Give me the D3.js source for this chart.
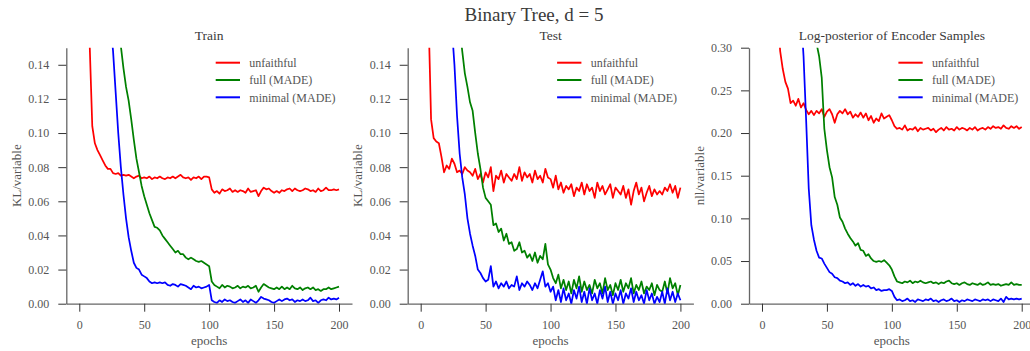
<!DOCTYPE html>
<html>
<head>
<meta charset="utf-8">
<script src="https://cdn.jsdelivr.net/npm/d3@7"></script>
<style>
  body { margin: 0; background: #fff; }
  text { font-family: "Liberation Serif", "DejaVu Serif", serif; }
</style>
</head>
<body>
<div id="chart"></div>
<script>
// epochs sampled every 2
const epochs = d3.range(0, 201, 2);

const seriesNames = ['unfaithful', 'full (MADE)', 'minimal (MADE)'];
const seriesColors = ['#ff0000', '#008000', '#0000ff'];

const panelTitles = ['Train', 'Test', 'Log-posterior of Encoder Samples'];
const yLabels = ['KL/variable', 'KL/variable', 'nll/variable'];
const yMaxes = [0.15, 0.15, 0.30];
const klTicks = [0, 0.02, 0.04, 0.06, 0.08, 0.10, 0.12, 0.14];
const nllTicks = [0, 0.05, 0.10, 0.15, 0.20, 0.25, 0.30];
const xTicks = [0, 50, 100, 150, 200];

// Train
const trainUnfaithful = [
  0.5, 0.35, 0.25, 0.19, 0.152, 0.104, 0.094, 0.090, 0.087, 0.084,
  0.081, 0.079, 0.079, 0.0765, 0.076, 0.0765, 0.075, 0.0755, 0.075, 0.0755,
  0.0745, 0.0735, 0.0745, 0.075, 0.0735, 0.074, 0.0735, 0.0745, 0.073, 0.074,
  0.0735, 0.0745, 0.0735, 0.073, 0.074, 0.0735, 0.0745, 0.0735, 0.0745, 0.0755,
  0.074, 0.0735, 0.074, 0.0725, 0.074, 0.0735, 0.0745, 0.073, 0.0745, 0.0745,
  0.074, 0.067, 0.065, 0.066, 0.0645, 0.067, 0.066, 0.0665, 0.0675, 0.0655,
  0.0665, 0.0655, 0.0665, 0.066, 0.065, 0.0675, 0.0655, 0.066, 0.0665, 0.063,
  0.066, 0.068, 0.067, 0.0675, 0.066, 0.065, 0.066, 0.065, 0.0665, 0.066,
  0.067, 0.0675, 0.066, 0.0675, 0.0665, 0.066, 0.0665, 0.0675, 0.067, 0.066,
  0.0665, 0.0655, 0.0675, 0.066, 0.0665, 0.068, 0.0665, 0.0665, 0.067, 0.0665,
  0.067
];
const trainFull = [
  0.60, 0.55, 0.50, 0.46, 0.42, 0.39, 0.36, 0.33, 0.30, 0.28,
  0.25, 0.23, 0.21, 0.19, 0.175, 0.162, 0.151, 0.138, 0.127, 0.119,
  0.108, 0.096, 0.085, 0.077, 0.069, 0.063, 0.058, 0.053, 0.049, 0.045,
  0.0445, 0.043, 0.040, 0.038, 0.036, 0.034, 0.032, 0.030, 0.031, 0.029,
  0.029, 0.027, 0.026, 0.027, 0.026, 0.025, 0.0245, 0.025, 0.024, 0.023,
  0.022, 0.013, 0.011, 0.010, 0.009, 0.011, 0.0095, 0.0105, 0.010, 0.009,
  0.0095, 0.0105, 0.009, 0.010, 0.0095, 0.0105, 0.009, 0.0095, 0.0105, 0.007,
  0.0095, 0.0115, 0.0105, 0.0095, 0.009, 0.0085, 0.0095, 0.0085, 0.010, 0.0085,
  0.0095, 0.0085, 0.0105, 0.009, 0.0085, 0.0095, 0.008, 0.009, 0.0095, 0.0085,
  0.0095, 0.008, 0.0085, 0.0075, 0.0085, 0.0085, 0.0095, 0.0085, 0.009, 0.0095,
  0.010
];
const trainMinimal = [
  0.6, 0.52, 0.46, 0.41, 0.37, 0.33, 0.30, 0.27, 0.245, 0.22,
  0.20, 0.18, 0.165, 0.148, 0.124, 0.100, 0.080, 0.064, 0.050, 0.039,
  0.031, 0.024, 0.021, 0.020, 0.017, 0.016, 0.015, 0.013, 0.012, 0.0125,
  0.012, 0.0125, 0.012, 0.0125, 0.011, 0.0105, 0.0115, 0.011, 0.010, 0.0115,
  0.011, 0.0105, 0.0095, 0.0085, 0.0105, 0.0095, 0.010, 0.009, 0.0095, 0.010,
  0.011, 0.002, 0.001, 0.0005, 0.002, 0.001, 0.0025, 0.0015, 0.002, 0.001,
  0.0005, 0.0015, 0.0025, 0.001, 0.002, 0.0005, 0.0025, 0.0015, 0.0005, 0.002,
  0.004, 0.003, 0.0025, 0.002, 0.001, 0.0005, 0.0015, 0.0025, 0.0015, 0.0025,
  0.003, 0.002, 0.0025, 0.001, 0.002, 0.0015, 0.0025, 0.0015, 0.002, 0.0035,
  0.0015, 0.002, 0.0005, 0.002, 0.0025, 0.002, 0.0035, 0.0025, 0.003, 0.0025,
  0.0035
];

// Test
const testUnfaithful = [
  0.5, 0.35, 0.24, 0.17, 0.108, 0.097, 0.095, 0.094, 0.086, 0.077,
  0.081, 0.079, 0.085, 0.082, 0.077, 0.078, 0.076, 0.080, 0.078, 0.077,
  0.075, 0.079, 0.073, 0.076, 0.071, 0.077, 0.074, 0.080, 0.066, 0.075,
  0.073, 0.078, 0.071, 0.076, 0.074, 0.072, 0.076, 0.073, 0.080, 0.072,
  0.077, 0.074, 0.076, 0.071, 0.078, 0.073, 0.075, 0.071, 0.079, 0.074,
  0.073, 0.068, 0.075, 0.067, 0.071, 0.065, 0.069, 0.067, 0.070, 0.063,
  0.068, 0.066, 0.071, 0.064, 0.070, 0.066, 0.068, 0.062, 0.071, 0.066,
  0.069, 0.064, 0.067, 0.070, 0.062, 0.068, 0.066, 0.064, 0.069, 0.062,
  0.067, 0.058, 0.066, 0.071, 0.064, 0.068, 0.060, 0.065, 0.069, 0.063,
  0.067, 0.064, 0.066, 0.064, 0.068, 0.066, 0.070, 0.065, 0.069, 0.062,
  0.068
];
const testFull = [
  0.60, 0.55, 0.50, 0.46, 0.42, 0.39, 0.36, 0.33, 0.30, 0.28,
  0.25, 0.23, 0.21, 0.19, 0.175, 0.162, 0.148, 0.135, 0.127, 0.118,
  0.113, 0.100, 0.088, 0.079, 0.068, 0.062, 0.060, 0.058, 0.046, 0.047,
  0.042, 0.044, 0.037, 0.041, 0.035, 0.036, 0.031, 0.032, 0.036, 0.030,
  0.031, 0.027, 0.029, 0.025, 0.030, 0.024, 0.028, 0.026, 0.035, 0.023,
  0.020, 0.015, 0.012, 0.017, 0.009, 0.014, 0.008, 0.013, 0.006, 0.014,
  0.009, 0.016, 0.007, 0.013, 0.008, 0.011, 0.006, 0.014, 0.009, 0.012,
  0.006, 0.015, 0.008, 0.011, 0.005, 0.012, 0.008, 0.014, 0.007, 0.012,
  0.009, 0.015, 0.006, 0.011, 0.008, 0.013, 0.006, 0.010, 0.008, 0.012,
  0.005, 0.011, 0.008, 0.007, 0.013, 0.006, 0.015, 0.009, 0.012, 0.005,
  0.011
];
const testMinimal = [
  0.6, 0.52, 0.46, 0.41, 0.37, 0.33, 0.30, 0.27, 0.245, 0.22,
  0.20, 0.18, 0.162, 0.140, 0.110, 0.088, 0.074, 0.064, 0.050, 0.041,
  0.034, 0.028, 0.020, 0.018, 0.015, 0.013, 0.014, 0.022, 0.010, 0.013,
  0.009, 0.012, 0.010, 0.013, 0.009, 0.011, 0.010, 0.016, 0.008, 0.012,
  0.010, 0.013, 0.011, 0.008, 0.012, 0.009, 0.014, 0.019, 0.010, 0.012,
  0.007, 0.010, 0.002, 0.008, 0.001, 0.009, 0.002, 0.006, 0.000, 0.008,
  0.003, 0.010, 0.001, 0.007, 0.000, 0.009, 0.002, 0.006, 0.000, 0.008,
  0.003, 0.010, 0.001, 0.007, 0.000, 0.006, 0.002, 0.008, 0.000, 0.006,
  0.003, 0.009, 0.001, 0.007, 0.002, 0.005, 0.000, 0.008, 0.002, 0.006,
  0.000, 0.004, 0.001, 0.007, 0.000, 0.009, 0.002, 0.007, 0.001, 0.006,
  0.002
];

// Log-posterior of encoder samples
const lpUnfaithful = [
  0.9, 0.8, 0.7, 0.6, 0.5, 0.42, 0.34, 0.296, 0.275, 0.26,
  0.252, 0.235, 0.238, 0.232, 0.24, 0.23, 0.235, 0.227, 0.222, 0.226,
  0.221, 0.226, 0.223, 0.228, 0.219, 0.225, 0.228, 0.222, 0.212, 0.222,
  0.226, 0.223, 0.228, 0.222, 0.225, 0.218, 0.222, 0.219, 0.224, 0.218,
  0.223, 0.215, 0.220, 0.212, 0.217, 0.214, 0.223, 0.217, 0.219, 0.221,
  0.215, 0.208, 0.205, 0.206, 0.204, 0.209, 0.203, 0.205, 0.204, 0.207,
  0.202, 0.206, 0.204, 0.205, 0.206, 0.203, 0.205, 0.201, 0.204, 0.206,
  0.203, 0.207, 0.204, 0.205, 0.203, 0.207, 0.204, 0.206, 0.205, 0.203,
  0.206, 0.204, 0.207, 0.203, 0.205, 0.206, 0.204, 0.207, 0.205, 0.208,
  0.206, 0.207, 0.205, 0.209, 0.206, 0.205, 0.208, 0.206, 0.208, 0.205,
  0.207
];
const lpFull = [
  1.5, 1.4, 1.3, 1.2, 1.1, 1.0, 0.92, 0.85, 0.78, 0.72,
  0.66, 0.61, 0.56, 0.52, 0.48, 0.44, 0.41, 0.38, 0.35, 0.33,
  0.315, 0.305, 0.29, 0.265, 0.205, 0.18, 0.16, 0.148, 0.125, 0.116,
  0.101, 0.096, 0.088, 0.082, 0.077, 0.073, 0.068, 0.071, 0.063, 0.062,
  0.056, 0.058, 0.053, 0.050, 0.049, 0.050, 0.049, 0.051, 0.048, 0.045,
  0.040, 0.032, 0.026, 0.025, 0.024, 0.026, 0.025, 0.027, 0.024, 0.026,
  0.025, 0.027, 0.025, 0.024, 0.025, 0.026, 0.024, 0.025, 0.023, 0.025,
  0.024, 0.026, 0.027, 0.024, 0.023, 0.024, 0.022, 0.024, 0.025, 0.023,
  0.022, 0.024, 0.023, 0.022, 0.024, 0.022, 0.023, 0.025, 0.022, 0.023,
  0.022, 0.023, 0.021, 0.022, 0.023, 0.022, 0.025, 0.022, 0.023, 0.022,
  0.022
];
const lpMinimal = [
  1.2, 1.1, 1.0, 0.92, 0.85, 0.78, 0.72, 0.66, 0.61, 0.56,
  0.52, 0.48, 0.44, 0.41, 0.38, 0.34, 0.29, 0.215, 0.135, 0.092,
  0.075, 0.062, 0.054, 0.053, 0.047, 0.042, 0.037, 0.035, 0.031, 0.030,
  0.027, 0.026, 0.024, 0.025, 0.022, 0.024, 0.021, 0.023, 0.020, 0.022,
  0.020, 0.021, 0.018, 0.019, 0.016, 0.017, 0.015, 0.016, 0.016, 0.017,
  0.015, 0.008, 0.004, 0.005, 0.003, 0.004, 0.006, 0.003, 0.004, 0.002,
  0.005, 0.004, 0.003, 0.005, 0.004, 0.006, 0.003, 0.004, 0.002, 0.004,
  0.005, 0.003, 0.004, 0.006, 0.003, 0.004, 0.002, 0.004, 0.003, 0.005,
  0.004, 0.003, 0.005, 0.004, 0.003, 0.005, 0.004, 0.005, 0.003, 0.005,
  0.004, 0.003, 0.006, 0.002, 0.008, 0.005, 0.006, 0.005, 0.006, 0.005,
  0.006
];

const panelSeries = [
  [trainUnfaithful, trainFull, trainMinimal],
  [testUnfaithful, testFull, testMinimal],
  [lpUnfaithful, lpFull, lpMinimal]
];
const panelTicks = [klTicks, klTicks, nllTicks];

const width = 1030, height = 351;
const panelLeft = [66.3, 407.7, 749];
const panelWidth = 285.7;
const plotTop = 47.7, plotBottom = 303.7;
const serif = '"Liberation Serif", serif';

const svg = d3.select('#chart')
  .append('svg')
  .attr('width', width)
  .attr('height', height);

svg.append('text')
  .attr('x', 534)
  .attr('y', 21)
  .attr('text-anchor', 'middle')
  .attr('fill', '#3a3a3a')
  .style('font-size', '19px')
  .text('Binary Tree, d = 5');

panelTitles.forEach((title, p) => {
  const left = panelLeft[p];
  const x = d3.scaleLinear().domain([-10, 210]).range([left, left + panelWidth]);
  const y = d3.scaleLinear().domain([0, yMaxes[p]]).range([plotBottom, plotTop]);

  const g = svg.append('g');

  // clip
  g.append('clipPath')
    .attr('id', 'clip' + p)
    .append('rect')
    .attr('x', left)
    .attr('y', plotTop)
    .attr('width', panelWidth)
    .attr('height', plotBottom - plotTop);

  // Add X axis
  const xAxis = g.append('g')
    .attr('transform', 'translate(0,' + plotBottom + ')')
    .call(d3.axisBottom(x).tickValues(xTicks).tickSize(8).tickSizeOuter(0).tickPadding(8.5));

  // Add Y axis
  const yAxis = g.append('g')
    .attr('transform', 'translate(' + left + ',0)')
    .call(d3.axisLeft(y).tickValues(panelTicks[p]).tickSize(8).tickSizeOuter(0).tickPadding(9)
      .tickFormat(d3.format('.2f')));

  [xAxis, yAxis].forEach(a => {
    a.attr('font-family', serif);
    a.select('.domain').attr('stroke', '#666').attr('stroke-width', 1.3);
    a.selectAll('.tick line').attr('stroke', '#333').attr('stroke-width', 1);
    a.selectAll('.tick text')
      .attr('fill', '#555')
      .style('font-size', '12px')
      .style('font-family', serif);
  });

  // lines
  const line = d3.line()
    .x((d, i) => x(epochs[i]))
    .y(d => y(d));

  panelSeries[p].forEach((vals, s) => {
    g.append('path')
      .datum(vals)
      .attr('clip-path', 'url(#clip' + p + ')')
      .attr('fill', 'none')
      .attr('stroke', seriesColors[s])
      .attr('stroke-width', 1.75)
      .attr('stroke-linejoin', 'round')
      .attr('d', line);
  });

  // titles and labels
  g.append('text')
    .attr('x', left + panelWidth / 2)
    .attr('y', 39.5)
    .attr('text-anchor', 'middle')
    .attr('fill', '#3a3a3a')
    .style('font-size', '13.5px')
    .text(title);

  g.append('text')
    .attr('x', left + panelWidth / 2)
    .attr('y', 345)
    .attr('text-anchor', 'middle')
    .attr('fill', '#555')
    .style('font-size', '13px')
    .text('epochs');

  g.append('text')
    .attr('transform', 'translate(' + (left - 50) + ',' + ((plotTop + plotBottom) / 2) + ') rotate(-90)')
    .attr('dy', '0.35em')
    .attr('text-anchor', 'middle')
    .attr('fill', '#555')
    .style('font-size', '13px')
    .text(yLabels[p]);

  // legend
  const legend = g.append('g').attr('transform', 'translate(' + left + ',0)');
  seriesNames.forEach((name, s) => {
    const ly = 62.7 + s * 17.3;
    legend.append('line')
      .attr('x1', 149.4).attr('x2', 173.7)
      .attr('y1', ly).attr('y2', ly)
      .attr('stroke', seriesColors[s])
      .attr('stroke-width', 2);
    legend.append('text')
      .attr('x', 183)
      .attr('y', ly)
      .attr('dy', '0.35em')
      .attr('fill', '#555')
      .style('font-size', '12px')
      .text(name);
  });
});
</script>
</body>
</html>
